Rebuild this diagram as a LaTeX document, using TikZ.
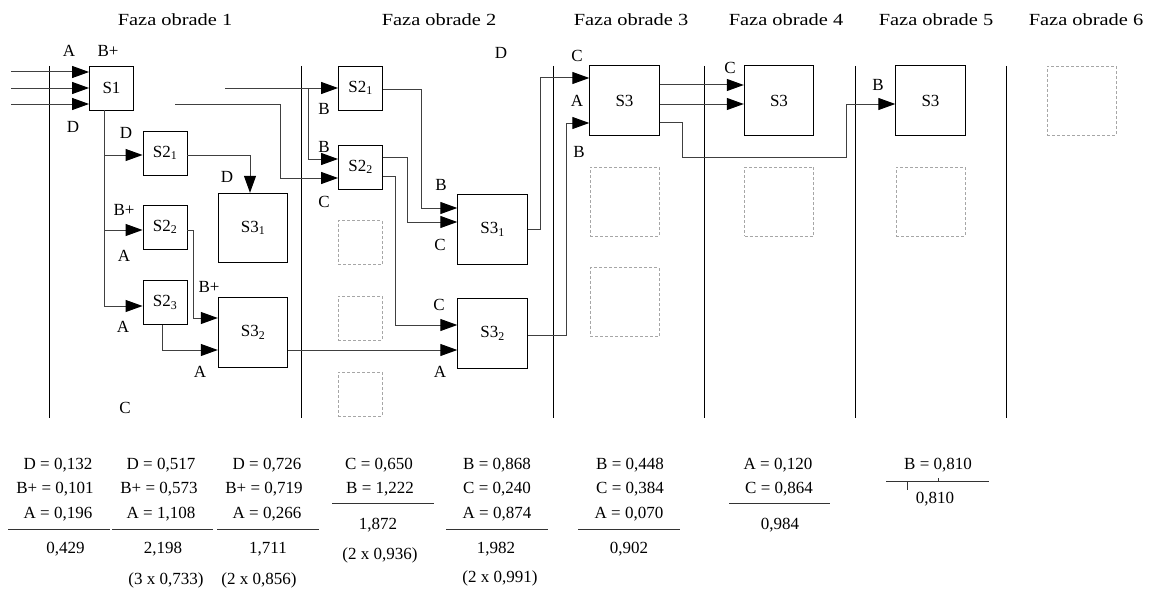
\documentclass[tikz,border=0pt]{standalone}
\usepackage{fontspec}
\setmainfont{Liberation Serif}
\newfontfamily\headfont{Liberation Serif}[FakeStretch=1.2]
\usetikzlibrary{arrows.meta}
\tikzset{
  every node/.style={font=\fontsize{17}{20}\selectfont, inner sep=0pt},
  box/.style={draw=black, line width=0.9pt, minimum width=44pt, minimum height=44pt},
  bigbox/.style={draw=black, line width=0.9pt, minimum width=69.5pt, minimum height=69.5pt},
  ghost/.style={draw=black!35, line width=0.9pt, dash pattern=on 3pt off 2pt, minimum width=44pt, minimum height=44pt},
  bigghost/.style={ghost, minimum width=69pt, minimum height=69pt},
  arr/.style={draw=black!75, line width=1pt, -{Triangle[length=17pt,width=12pt,color=black]}},
  divider/.style={draw=black, line width=0.9pt},
  rulel/.style={draw=black!80, line width=1pt},
  head/.style={font=\headfont\fontsize{17}{20}\selectfont},
}
\begin{document}
\begin{tikzpicture}[x=1pt,y=-1pt]
\useasboundingbox (0,0) rectangle (1154,594);
% headers
\node[head] (h1) at (175,20) {Faza obrade 1};
\node[head] (h2) at (439,20) {Faza obrade 2};
\node[head] (h3) at (631,20) {Faza obrade 3};
\node[head] (h4) at (786,20) {Faza obrade 4};
\node[head] (h5) at (936,20) {Faza obrade 5};
\node[head] (h6) at (1086,20) {Faza obrade 6};
% dividers
\foreach \x in {49,301,553,704,855,1006} \draw[divider] (\x,66) -- (\x,418);
% phase 1 boxes
\node[box] (S1) at (111.5,88) {S1};
\node[box] (aS21) at (165,153) {S2\textsubscript{1}};
\node[box] (aS22) at (165,227) {S2\textsubscript{2}};
\node[box] (aS23) at (165,302.5) {S2\textsubscript{3}};
\node[bigbox] (aS31) at (253,228) {S3\textsubscript{1}};
\node[bigbox] (aS32) at (253,332.5) {S3\textsubscript{2}};
% phase 2 boxes
\node[box] (bS21) at (360.5,88) {S2\textsubscript{1}};
\node[box] (bS22) at (360.5,167) {S2\textsubscript{2}};
\node[bigbox] (bS31) at (492.5,229.5) {S3\textsubscript{1}};
\node[bigbox] (bS32) at (492.5,333.5) {S3\textsubscript{2}};
\node[ghost] (bg1) at (360,242.5) {};
\node[ghost] (bg2) at (360,318) {};
\node[ghost] (bg3) at (360,394) {};
% phase 3
\node[bigbox] (cS3) at (624.5,100.5) {S3};
\node[bigghost] (cg1) at (624.5,201.5) {};
\node[bigghost] (cg2) at (624.5,302) {};
% phase 4
\node[bigbox] (dS3) at (779,100.5) {S3};
\node[bigghost] (dg1) at (779,201.5) {};
% phase 5
\node[bigbox] (eS3) at (930.5,100.5) {S3};
\node[bigghost] (eg1) at (930.5,201.5) {};
% phase 6
\node[bigghost] (fg1) at (1081.5,100.5) {};

% inputs to S1
\coordinate (in1) at (11,72);
\coordinate (in2) at (11,88);
\coordinate (in3) at (11,104);
\draw[arr] (in1) -- ([yshift=16pt]S1.west);
\draw[arr] (in2) -- (S1.west);
\draw[arr] (in3) -- ([yshift=-16pt]S1.west);
% trunk from S1
\coordinate (tr) at ([xshift=-7.5pt]S1.south);
\coordinate (aS21in) at ([yshift=-2pt]aS21.west);
\coordinate (aS22in) at ([yshift=-3pt]aS22.west);
\coordinate (aS23in) at ([yshift=-3.5pt]aS23.west);
\draw[arr] (tr) |- (aS23in);
\draw[arr] (tr |- aS21in) -- (aS21in);
\draw[arr] (tr |- aS22in) -- (aS22in);
% phase 1 internal
\draw[arr] ([yshift=-2pt]aS21.east) -| ([xshift=-3pt]aS31.north);
\draw[arr] ([yshift=-3pt]aS22.east) -- ++(6,0) |- ([yshift=14.5pt]aS32.west);
\draw[arr] ([xshift=-3pt]aS23.south) |- ([yshift=-17.5pt]aS32.west);
\draw[arr] ([yshift=-17.5pt]aS32.east) -- ([yshift=-16.5pt]bS32.west);
% into phase 2
\coordinate (f1) at (225,88);
\coordinate (br) at (308,88);
\coordinate (f2) at (175,104);
\draw[arr] (f1) -- (bS21.west);
\draw[arr] (br) |- ([yshift=8pt]bS22.west);
\draw[arr] (f2) -- ++(105,0) |- ([yshift=-11pt]bS22.west);
% phase 2 internal
\draw[arr] ([yshift=-1pt]bS21.east) -- ++(38.5,0) |- ([yshift=21.5pt]bS31.west);
\draw[arr] ([yshift=10pt]bS22.east) -- ++(24.5,0) |- ([yshift=7.5pt]bS31.west);
\draw[arr] ([yshift=-9pt]bS22.east) -- ++(12.5,0) |- ([yshift=8.5pt]bS32.west);
% to phase 3
\draw[arr] (bS31.east) -- ++(12.5,0) |- ([yshift=22.5pt]cS3.west);
\draw[arr] ([yshift=-1.5pt]bS32.east) -- ++(38.5,0) |- ([yshift=-22.5pt]cS3.west);
% to phase 4 and 5
\draw[arr] ([yshift=15.5pt]cS3.east) -- ([yshift=15.5pt]dS3.west);
\draw[arr] ([yshift=-3.5pt]cS3.east) -- ([yshift=-3.5pt]dS3.west);
\draw[arr] ([yshift=-21.5pt]cS3.east) -- ++(22.5,0) -- ++(0,35) -- ++(164,0) |- ([yshift=-3.5pt]eS3.west);

% labels phase 1
\node (la1) at (69,51) {A};
\node (la2) at (108,51) {B+};
\node (la3) at (73,127) {D};
\node (la4) at (126,133) {D};
\node (la5) at (227,177) {D};
\node (la6) at (124,210) {B+};
\node (la7) at (124,256) {A};
\node (la8) at (209,287) {B+};
\node (la9) at (123,327) {A};
\node (la10) at (200,372) {A};
\node (la11) at (125,408) {C};
% labels phase 2
\node (lb1) at (501,53) {D};
\node (lb2) at (324,109) {B};
\node (lb3) at (324,147) {B};
\node (lb4) at (324,202) {C};
\node (lb5) at (441,185) {B};
\node (lb6) at (440,245) {C};
\node (lb7) at (439,305) {C};
\node (lb8) at (440,372) {A};
% labels phase 3-5
\node (lc1) at (577,56) {C};
\node (lc2) at (577,101) {A};
\node (lc3) at (579,152) {B};
\node (ld1) at (730,68) {C};
\node (le1) at (878,85) {B};

% bottom tables
\node (t1a) at (58,465) {D = 0,132};
\node (t1b) at (55,489) {B+ = 0,101};
\node (t1c) at (58,514) {A = 0,196};
\draw[rulel] (8,529) -- (110,529);
\node (t1s) at (65.5,549) {0,429};

\node (t2a) at (161,465) {D = 0,517};
\node (t2b) at (159,489) {B+ = 0,573};
\node (t2c) at (161,514) {A = 1,108};
\draw[rulel] (112,529) -- (213,529);
\node (t2s) at (163,549) {2,198};
\node (t2p) at (166,580) {(3 x 0,733)};

\node (t3a) at (267,465) {D = 0,726};
\node (t3b) at (264,489) {B+ = 0,719};
\node (t3c) at (267,514) {A = 0,266};
\draw[rulel] (217,529) -- (319,529);
\node (t3s) at (268,549) {1,711};
\node (t3p) at (259,580) {(2 x 0,856)};

\node (t4a) at (379,465) {C = 0,650};
\node (t4b) at (380,489) {B = 1,222};
\draw[rulel] (332,503) -- (434,503);
\node (t4s) at (378,525) {1,872};
\node (t4p) at (380,555) {(2 x 0,936)};

\node (t5a) at (497,465) {B = 0,868};
\node (t5b) at (497,489) {C = 0,240};
\node (t5c) at (497,514) {A = 0,874};
\draw[rulel] (446,529) -- (548,529);
\node (t5s) at (496,549) {1,982};
\node (t5p) at (500,578) {(2 x 0,991)};

\node (t6a) at (630,465) {B = 0,448};
\node (t6b) at (630,489) {C = 0,384};
\node (t6c) at (629,514) {A = 0,070};
\draw[rulel] (578,529) -- (680,529);
\node (t6s) at (629,549) {0,902};

\node (t7a) at (778,465) {A = 0,120};
\node (t7b) at (779,489) {C = 0,864};
\draw[rulel] (729,503) -- (830,503);
\node (t7s) at (780,525) {0,984};

\node (t8a) at (938,465) {B = 0,810};
\draw[rulel] (886,481) -- (989,481);
\draw[rulel, line width=0.8pt] (907,481) -- (907,490);
\draw[rulel, line width=0.8pt] (938,478) -- (938,481);
\node (t8s) at (935,499) {0,810};
\end{tikzpicture}
\end{document}
